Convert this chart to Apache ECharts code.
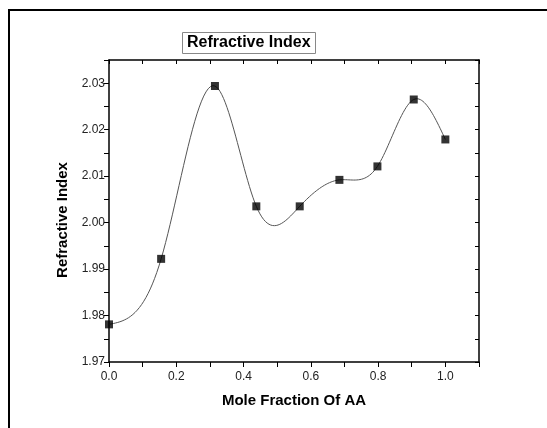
<!doctype html>
<html>
<head>
    <meta charset="utf-8">
    <title>Refractive Index</title>
    <script src="https://cdn.jsdelivr.net/npm/echarts@6/dist/echarts.min.js"></script>
</head>
<body style="margin:0;background:#fff;">
<div id="main" style="width:547px;height:428px;"></div>
<script>
// values
var moleFraction = [0, 0.155, 0.315, 0.438, 0.567, 0.685, 0.798, 0.906, 1.0];
var refractiveIndex = [1.9781, 1.9922, 2.0294, 2.0035, 2.0035, 2.0092, 2.0121, 2.0265, 2.0179];

var FONT = 'Liberation Sans, Arial, sans-serif';

// natural cubic spline through the points, used only to draw the connecting curve
function naturalSpline(xs, ys) {
    var n = xs.length, h = [], alpha = [], l = [1], mu = [0], z = [0];
    var b = [], c = [], d = [];
    for (var i = 0; i < n - 1; i++) h[i] = xs[i + 1] - xs[i];
    for (i = 1; i < n - 1; i++) {
        alpha[i] = 3 / h[i] * (ys[i + 1] - ys[i]) - 3 / h[i - 1] * (ys[i] - ys[i - 1]);
        l[i] = 2 * (xs[i + 1] - xs[i - 1]) - h[i - 1] * mu[i - 1];
        mu[i] = h[i] / l[i];
        z[i] = (alpha[i] - h[i - 1] * z[i - 1]) / l[i];
    }
    c[n - 1] = 0;
    for (var j = n - 2; j >= 0; j--) {
        c[j] = z[j] - mu[j] * c[j + 1];
        b[j] = (ys[j + 1] - ys[j]) / h[j] - h[j] * (c[j + 1] + 2 * c[j]) / 3;
        d[j] = (c[j + 1] - c[j]) / (3 * h[j]);
    }
    return function (seg, x) {
        var t = x - xs[seg];
        return ys[seg] + b[seg] * t + c[seg] * t * t + d[seg] * t * t * t;
    };
}
var spline = naturalSpline(moleFraction, refractiveIndex);

var myChart = echarts.init(document.getElementById('main'));

var option = {
    animation: false,
    title: {
        text: 'Refractive Index',
        left: 182,
        top: 32,
        padding: [3, 5],
        borderColor: '#888',
        borderWidth: 1,
        textStyle: { fontFamily: FONT, fontSize: 16, fontWeight: 'bold', color: '#000' }
    },
    graphic: [{
        type: 'rect',
        silent: true,
        z: -10,
        shape: { x: 9, y: 10, width: 700, height: 700 },
        style: { fill: null, stroke: '#000', lineWidth: 2 }
    }],
    grid: { left: 109, right: 68, top: 60, bottom: 66 },
    xAxis: [{
        type: 'value',
        min: 0, max: 1.1, interval: 0.1,
        name: 'Mole Fraction Of AA',
        nameLocation: 'middle',
        nameGap: 31,
        nameTextStyle: { fontFamily: FONT, fontSize: 15, fontWeight: 'bold', color: '#000' },
        splitLine: { show: false },
        axisLine: { onZero: false, lineStyle: { color: '#000', width: 1.5 } },
        axisTick: { length: 5, lineStyle: { color: '#000' } },
        axisLabel: {
            margin: 9, fontFamily: FONT, fontSize: 12, color: '#222',
            formatter: function (v) {
                var k = Math.round(v * 10);
                return (k % 2 === 0 && k <= 10) ? (k / 10).toFixed(1) : '';
            }
        }
    }, {
        type: 'value', position: 'top',
        min: 0, max: 1.1, interval: 0.1,
        splitLine: { show: false },
        axisLine: { onZero: false, lineStyle: { color: '#000', width: 1.5 } },
        axisTick: { inside: true, length: 4, lineStyle: { color: '#000' } },
        axisLabel: { show: false }
    }],
    yAxis: [{
        type: 'value',
        min: 1.97, max: 2.035, interval: 0.005,
        name: 'Refractive Index',
        nameLocation: 'middle',
        nameGap: 38,
        nameTextStyle: { fontFamily: FONT, fontSize: 15, fontWeight: 'bold', color: '#000', padding: [0, 18, 0, 0] },
        splitLine: { show: false },
        axisLine: { onZero: false, lineStyle: { color: '#000', width: 1.5 } },
        axisTick: { length: 5, lineStyle: { color: '#000' } },
        axisLabel: {
            margin: 4, fontFamily: FONT, fontSize: 12, color: '#222',
            formatter: function (v) {
                var k = Math.round(v * 1000);
                return (k % 10 === 0 && k <= 2030) ? v.toFixed(2) : '';
            }
        }
    }, {
        type: 'value', position: 'right',
        min: 1.97, max: 2.035, interval: 0.005,
        splitLine: { show: false },
        axisLine: { onZero: false, lineStyle: { color: '#000', width: 1.5 } },
        axisTick: { inside: true, length: 4, lineStyle: { color: '#000' } },
        axisLabel: { show: false }
    }],
    series: [{
        type: 'custom',
        clip: true,
        silent: true,
        data: [[moleFraction[0], refractiveIndex[0]]],
        renderItem: function (params, api) {
            var pts = [];
            for (var i = 0; i < moleFraction.length - 1; i++) {
                var x0 = moleFraction[i], x1 = moleFraction[i + 1];
                for (var k = 0; k <= 24; k++) {
                    var x = x0 + (x1 - x0) * k / 24;
                    pts.push(api.coord([x, spline(i, x)]));
                }
            }
            return {
                type: 'polyline',
                shape: { points: pts },
                style: { fill: null, stroke: '#555', lineWidth: 1 }
            };
        }
    }, {
        type: 'scatter',
        symbol: 'rect',
        symbolSize: 8,
        itemStyle: { color: '#000' },
        data: moleFraction.map(function (x, i) { return [x, refractiveIndex[i]]; }),
        z: 5
    }]
};

myChart.setOption(option);
</script>
</body>
</html>
